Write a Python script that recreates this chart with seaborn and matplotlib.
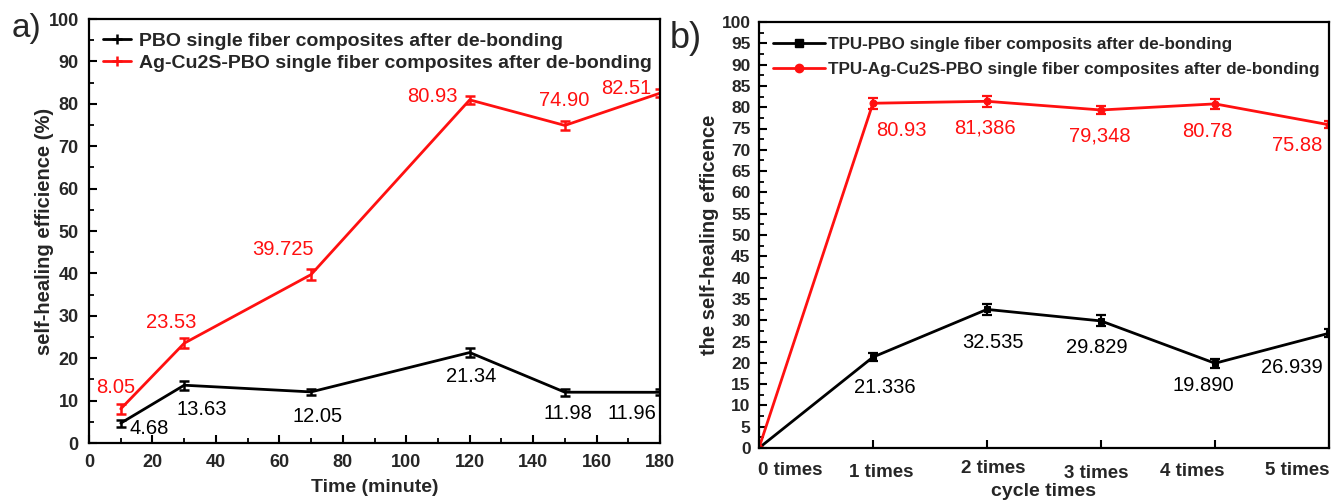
import matplotlib
matplotlib.use("Agg")
import matplotlib.pyplot as plt
import seaborn as sns
from matplotlib.lines import Line2D
from matplotlib.ticker import MultipleLocator
from matplotlib.transforms import ScaledTranslation

# ---- panel a: healing time series ----
time_min = [10, 30, 70, 120, 150, 180]
pbo = [4.68, 13.63, 12.05, 21.34, 11.98, 11.96]
pbo_err = [0.8, 1.1, 0.7, 1.0, 0.8, 0.7]
ag_pbo = [8.05, 23.53, 39.725, 80.93, 74.90, 82.51]
ag_pbo_err = [1.2, 1.2, 1.2, 1.0, 1.0, 1.0]
pbo_text = ["4.68", "13.63", "12.05", "21.34", "11.98", "11.96"]
ag_pbo_text = ["8.05", "23.53", "39.725", "80.93", "74.90", "82.51"]
legend_a = ["PBO single fiber composites after de-bonding",
            "Ag-Cu2S-PBO single fiber composites after de-bonding"]

# ---- panel b: repeated healing cycles ----
cycles = [0, 1, 2, 3, 4, 5]
cycle_ticks = ["0 times", "1 times", "2 times", "3 times", "4 times", "5 times"]
tpu_pbo = [0, 21.336, 32.535, 29.829, 19.890, 26.939]
tpu_pbo_err = [0, 1.0, 1.2, 1.3, 1.0, 1.0]
tpu_ag = [0, 80.93, 81.386, 79.348, 80.78, 75.88]
tpu_ag_err = [0, 1.3, 1.3, 1.0, 1.2, 0.8]
tpu_pbo_text = ["", "21.336", "32.535", "29.829", "19.890", "26.939"]
tpu_ag_text = ["", "80.93", "81,386", "79,348", "80.78", "75.88"]
legend_b = ["TPU-PBO single fiber composits after de-bonding",
            "TPU-Ag-Cu2S-PBO single fiber composites after de-bonding"]

RED = "#ff1010"
BLACK = "#000000"
FONT = ["Liberation Sans", "DejaVu Sans"]

sns.set_theme(style="ticks")
plt.rcParams["font.family"] = FONT
plt.rcParams["axes.linewidth"] = 1.6
plt.rcParams["xtick.direction"] = "in"
plt.rcParams["ytick.direction"] = "in"

fig = plt.figure(figsize=(13.35, 5.0), dpi=100)
ax_a = fig.add_axes([0.0667, 0.114, 0.4277, 0.848])
ax_b = fig.add_axes([0.5685, 0.104, 0.4270, 0.852])


def style_axis(ax):
    for s in ax.spines.values():
        s.set_color("black")
        s.set_linewidth(1.6)
    ax.tick_params(which="major", length=6, width=1.5, color="black")
    ax.tick_params(which="minor", length=3.5, width=1.3, color="black")
    ax.tick_params(top=False, right=False, which="both")
    for lab in ax.get_xticklabels() + ax.get_yticklabels():
        lab.set_fontweight("bold")


def put_labels(ax, xs, ys, texts, offsets, color, size):
    for x, y, t, (dx, dy) in zip(xs, ys, texts, offsets):
        if not t:
            continue
        ax.annotate(t, (x, y), xytext=(dx, -dy), textcoords="offset pixels",
                    ha="center", va="center", color=color, fontsize=size)


# ---------------- panel a ----------------
sns.lineplot(x=time_min, y=pbo, ax=ax_a, color=BLACK, lw=2.0, legend=False)
sns.lineplot(x=time_min, y=ag_pbo, ax=ax_a, color=RED, lw=2.0, legend=False)
ax_a.errorbar(time_min, pbo, yerr=pbo_err, fmt="none", ecolor=BLACK,
              elinewidth=1.8, capsize=3.5, capthick=1.8)
ax_a.errorbar(time_min, ag_pbo, yerr=ag_pbo_err, fmt="none", ecolor=RED,
              elinewidth=1.8, capsize=3.5, capthick=1.8)
ax_a.set_xlim(0, 180)
ax_a.set_ylim(0, 100)
ax_a.xaxis.set_major_locator(MultipleLocator(20))
ax_a.xaxis.set_minor_locator(MultipleLocator(10))
ax_a.yaxis.set_major_locator(MultipleLocator(10))
ax_a.yaxis.set_minor_locator(MultipleLocator(5))
ax_a.tick_params(axis="x", labelsize=13, pad=8)
ax_a.tick_params(axis="y", labelsize=13, pad=7.5)
style_axis(ax_a)
ax_a.set_xlabel("Time (minute)", fontsize=14, fontweight="bold", labelpad=6)
ax_a.set_ylabel("self-healing efficience (%)", fontsize=14.5,
                fontweight="bold", va="center")
ax_a.yaxis.set_label_coords(-0.078, 0.5)

put_labels(ax_a, time_min, pbo, pbo_text,
           [(28, 5), (18, 24), (6, 25), (1, 24), (3, 21), (-28, 21)], BLACK, 14.5)
put_labels(ax_a, time_min, ag_pbo, ag_pbo_text,
           [(-5, -21), (-13, -21), (-28, -25), (-37, -3), (-1, -25), (-34, -5)],
           RED, 14.5)

handles_a = [Line2D([], [], color=BLACK, lw=2, marker="+", ms=7, mew=1.8),
             Line2D([], [], color=RED, lw=2, marker="+", ms=7, mew=1.8)]
ax_a.legend(handles_a, legend_a, loc="upper left", bbox_to_anchor=(0.0, 1.0),
            frameon=False, handlelength=1.45, handletextpad=0.4,
            labelspacing=0.2, borderaxespad=0.3,
            prop={"size": 14, "weight": "bold"})

fig.text(0.020, 0.943, "a)", fontsize=24, ha="center", va="center")

# ---------------- panel b ----------------
sns.lineplot(x=cycles, y=tpu_pbo, ax=ax_b, color=BLACK, lw=2.0, marker="s",
             markersize=5, markeredgecolor=BLACK, legend=False)
sns.lineplot(x=cycles, y=tpu_ag, ax=ax_b, color=RED, lw=2.0, marker="o",
             markersize=5, markeredgecolor=RED, legend=False)
ax_b.errorbar(cycles, tpu_pbo, yerr=tpu_pbo_err, fmt="none", ecolor=BLACK,
              elinewidth=1.6, capsize=3.5, capthick=1.6)
ax_b.errorbar(cycles, tpu_ag, yerr=tpu_ag_err, fmt="none", ecolor=RED,
              elinewidth=1.6, capsize=3.5, capthick=1.6)
ax_b.set_xlim(0, 5)
ax_b.set_ylim(0, 100)
ax_b.set_xticks(cycles)
ax_b.set_xticklabels(cycle_ticks)
ax_b.yaxis.set_major_locator(MultipleLocator(5))
ax_b.yaxis.set_minor_locator(MultipleLocator(2.5))
ax_b.tick_params(axis="x", labelsize=13.5, pad=10)
ax_b.tick_params(axis="y", labelsize=12.5, pad=6)
style_axis(ax_b)
ax_b.set_xlabel("cycle times", fontsize=14, fontweight="bold", labelpad=1)
ax_b.set_ylabel("the self-healing efficence", fontsize=14.5,
                fontweight="bold", va="center")
ax_b.yaxis.set_label_coords(-0.086, 0.5)

# staggered placement of the category names under the axis
shift_px = [(31, 0), (8, -2), (6, 2), (-5, -3), (-23, -1), (-32, 0)]
for lab, (dx, dy) in zip(ax_b.get_xticklabels(), shift_px):
    lab.set_transform(lab.get_transform() +
                      ScaledTranslation(dx / 100, dy / 100, fig.dpi_scale_trans))

put_labels(ax_b, cycles, tpu_pbo, tpu_pbo_text,
           [(0, 0), (12, 30), (6, 33), (-4, 27), (-12, 22), (-37, 34)], BLACK, 14.5)
put_labels(ax_b, cycles, tpu_ag, tpu_ag_text,
           [(0, 0), (28, 27), (-2, 27), (-1, 26), (-8, 28), (-32, 21)], RED, 14.5)

handles_b = [Line2D([], [], color=BLACK, lw=2, marker="s", ms=6),
             Line2D([], [], color=RED, lw=2, marker="o", ms=6)]
ax_b.legend(handles_b, legend_b, loc="upper left", bbox_to_anchor=(0.0, 1.0),
            frameon=False, handlelength=3.0, handletextpad=0.2,
            labelspacing=0.6, borderaxespad=0.45,
            prop={"size": 12.3, "weight": "bold"})

fig.text(0.514, 0.924, "b)", fontsize=26, ha="center", va="center")

fig.savefig("out.png", dpi=100)
